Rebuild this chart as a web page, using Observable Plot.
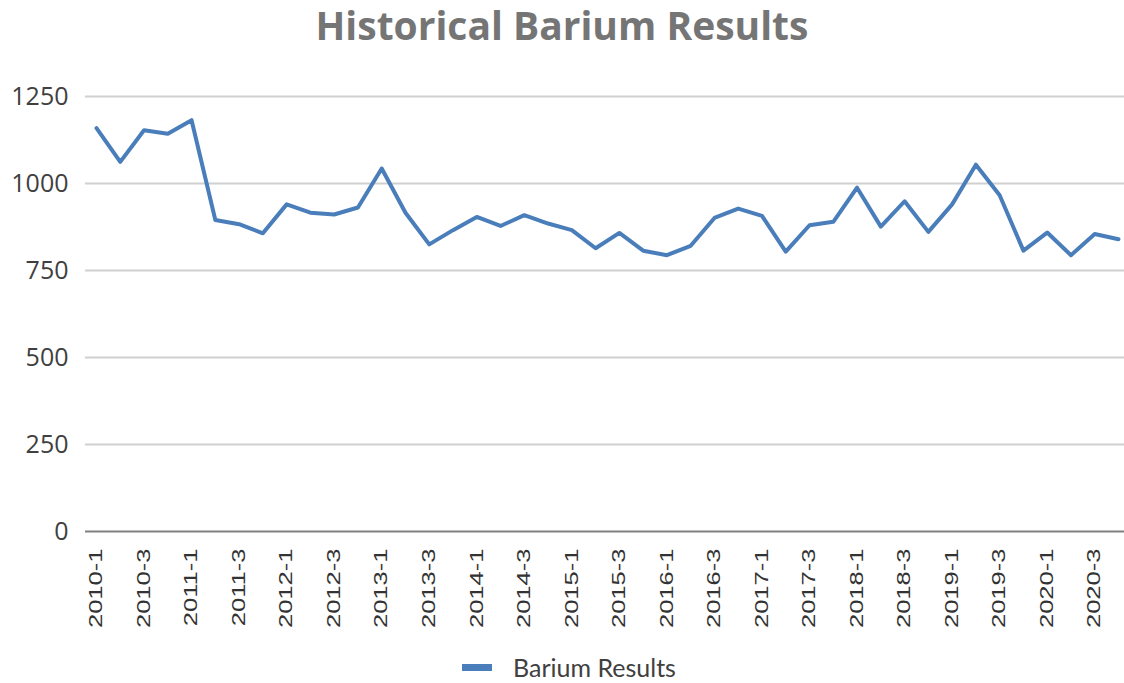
<!DOCTYPE html>
<html>
<head>
<meta charset="utf-8">
<script src="https://cdn.jsdelivr.net/npm/d3@7"></script>
<script src="https://cdn.jsdelivr.net/npm/@observablehq/plot@0.6"></script>
<style>
  html, body { margin: 0; padding: 0; background: #fff; }
  #wrap { width: 1124px; height: 683px; position: relative; }
  #title { height: 60px; line-height: 50px; text-align: center; font-family: "Open Sans", sans-serif; font-weight: bold; font-size: 39px; color: #757575; }
  #chart svg { display: block; }
  #legend { height: 47px; box-sizing: border-box; padding-top: 16px; display: flex; justify-content: center; align-items: flex-start; }
  #legend .row { display: flex; align-items: center; height: 30px; margin-left: 14px; }
  #legend .sw { width: 30px; height: 7px; background: #4a7ebb; margin-right: 21px; }
  #legend .lab { font-family: Lato, "Open Sans", sans-serif; font-size: 25px; color: #404040; line-height: 30px; }
</style>
</head>
<body>
<div id="wrap">
  <div id="title">Historical Barium Results</div>
  <div id="chart"></div>
  <div id="legend"><div class="row"><div class="sw"></div><div class="lab">Barium Results</div></div></div>
</div>
<script>
const quarters = [
  "2010-1","2010-2","2010-3","2010-4",
  "2011-1","2011-2","2011-3","2011-4",
  "2012-1","2012-2","2012-3","2012-4",
  "2013-1","2013-2","2013-3","2013-4",
  "2014-1","2014-2","2014-3","2014-4",
  "2015-1","2015-2","2015-3","2015-4",
  "2016-1","2016-2","2016-3","2016-4",
  "2017-1","2017-2","2017-3","2017-4",
  "2018-1","2018-2","2018-3","2018-4",
  "2019-1","2019-2","2019-3","2019-4",
  "2020-1","2020-2","2020-3","2020-4"
];
const bariumResults = [
  1159, 1062, 1153, 1143,
  1182, 895, 883, 857,
  940, 916, 911, 931,
  1043, 916, 825, 866,
  904, 878, 909, 885,
  866, 814, 858, 807,
  794, 821, 901, 928,
  907, 804, 880, 890,
  988, 876, 949, 861,
  940, 1054, 966, 807,
  859, 794, 855, 840
];
const xTickLabels = [
  "2010-1","2010-3","2011-1","2011-3","2012-1","2012-3","2013-1","2013-3",
  "2014-1","2014-3","2015-1","2015-3","2016-1","2016-3","2017-1","2017-3",
  "2018-1","2018-3","2019-1","2019-3","2020-1","2020-3"
];
const yTicks = [0, 250, 500, 750, 1000, 1250];

const data = quarters.map((q, i) => ({q, v: bariumResults[i]}));

const chart = Plot.plot({
  width: 1124,
  height: 576,
  marginTop: 36,
  marginBottom: 105,
  marginLeft: 85,
  marginRight: 0,
  x: {type: "point", domain: quarters, range: [96, 1118], padding: 0},
  y: {domain: [0, 1250]},
  style: {fontFamily: "'Open Sans', sans-serif", color: "#404040", background: "#fff"},
  marks: [
    Plot.ruleY(yTicks.filter(d => d > 0), {stroke: "#d0d0d0", strokeWidth: 2}),
    Plot.ruleY([0], {stroke: "#808080", strokeWidth: 2}),
    Plot.axisY({ticks: yTicks, tickFormat: d => String(d), tickSize: 0, tickPadding: 17, fontSize: 25, label: null, fill: "#404040"}),
    Plot.axisX({ticks: xTickLabels, tickSize: 0, tickPadding: 17, tickRotate: -90, fontSize: 18, label: null, fill: "#333",
      fontFamily: "'Liberation Sans', Arial, sans-serif"}),
    Plot.lineY(data, {x: "q", y: "v", stroke: "#4a7ebb", strokeWidth: 4, strokeLinejoin: "round", strokeLinecap: "round"})
  ]
});
document.getElementById("chart").appendChild(chart);

d3.select(chart).selectAll('g[aria-label="x-axis tick label"] text').each(function() {
  const t = this.getAttribute("transform") || "";
  this.setAttribute("transform", t + " scale(1.42,1)");
});
</script>
</body>
</html>
